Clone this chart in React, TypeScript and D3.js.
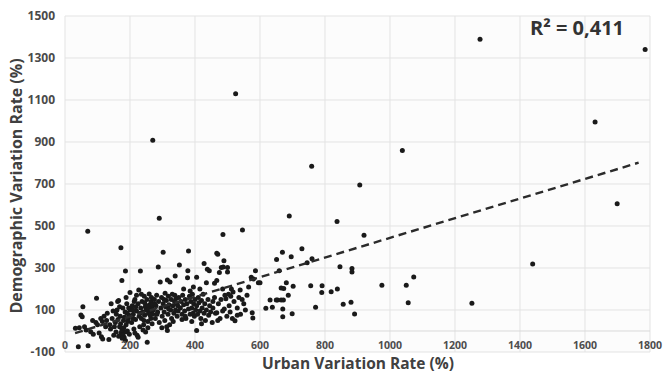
import React, { useEffect } from 'react';
import * as d3 from 'd3';

// [urban variation rate %, demographic variation rate %]
const lowBand: [number, number][] = [
  [32, 13], [44, 16], [41, -75], [71, -70], [79, -3], [87, -16], [49, 76], [53, 68], [55, 116],
  [70, 475], [97, 156], [60, 20], [95, 40], [100, 30], [85, 50], [65, 5], [110, 60], [105, -10],
  [115, 45], [120, 70], [112, -27], [116, -38], [125, 20], [130, 85], [135, -40], [128, 50],
];

const denseBandA: [number, number][] = [
  [140, 10], [145, 60], [150, -20], [155, 40], [160, 100], [162, 140], [165, 145], [168, 20],
  [170, 70], [172, -10], [175, 240], [172, 397], [178, 110], [180, 50], [182, -30], [185, 90],
  [186, 286], [188, 30], [190, 130], [192, 0], [195, 60], [198, -15], [200, 183], [200, 100],
  [197, 75], [185, -5], [175, 5], [165, -25], [158, 80], [152, 20], [148, 95], [142, 130],
  [138, 30], [168, 115], [178, -20], [188, 160], [193, 45], [183, 65], [163, 55], [157, -5],
  [171, 35], [181, 15], [191, 85], [196, 110], [186, -45], [176, -35],
];

const denseBandB: [number, number][] = [
  [205, 40], [207, 120], [210, 80], [212, 10], [215, 150], [217, 55], [220, 95], [222, -20],
  [225, 130], [227, 195], [228, 70], [230, 20], [232, 286], [233, 110], [235, 60], [237, 140],
  [240, 90], [242, 30], [244, 165], [245, 75], [247, 115], [248, -5], [250, 100], [252, 150],
  [253, -54], [255, 45], [257, 85], [259, 176], [260, 125], [262, 95], [264, 60], [265, 140],
  [267, 110], [268, 35], [270, 908], [270, 80], [255, 15], [240, 5], [225, -30], [215, -10],
  [210, 60], [220, 170], [235, 175], [250, 120], [245, 135], [258, 105], [262, 75], [243, 50],
  [232, 85], [218, 115], [208, 100], [213, 140], [266, 160], [269, 125],
];

const midBandA: [number, number][] = [
  [272, 100], [275, 150], [278, 60], [280, 120], [282, 170], [285, 90], [287, 305], [288, 140],
  [290, 537], [290, 40], [293, 233], [295, 110], [297, 160], [299, 70], [302, 375], [302, 130],
  [305, 90], [307, 50], [308, 180], [310, 115], [312, 145], [315, 243], [315, 2], [317, 80],
  [318, 165], [320, 125], [322, 30], [323, 233], [325, 100], [327, 150], [328, 60], [330, 175],
  [332, 120], [335, 85], [337, 140], [339, 262], [340, 100], [342, 155], [345, 70], [347, 120],
  [350, 160], [352, 314], [348, 95], [333, 45], [313, 20], [298, 15], [283, 80], [276, 130],
  [305, 150], [319, 105], [338, 170], [344, 130],
];

const midBandB: [number, number][] = [
  [355, 110], [357, 140], [360, 80], [362, 170], [365, 125], [368, 95], [370, 150], [372, 60],
  [375, 130], [377, 254], [378, 287], [380, 381], [380, 105], [383, 165], [385, 80], [387, 140],
  [390, 110], [392, 175], [394, 85], [396, 130], [398, 70], [400, 150], [402, 100], [405, 256],
  [405, 2], [405, 120], [408, 80], [410, 160], [412, 135], [415, 95], [418, 60], [420, 145],
  [422, 110], [425, 175], [428, 322], [428, 85], [430, 130], [432, 50], [435, 100], [438, 294],
  [440, 150], [442, 75], [444, 287], [445, 120], [448, 90], [365, 200], [395, 210], [385, 190],
  [415, 200], [435, 230], [370, 70], [360, 55], [390, 45], [420, 35],
];

const upperBand: [number, number][] = [
  [453, 40], [455, 110], [460, 227], [460, 160], [463, 85], [467, 240], [467, 370], [467, 87],
  [470, 365], [472, 130], [475, 278], [477, 60], [480, 150], [481, 302], [485, 95], [486, 459],
  [487, 305], [489, 335], [490, 105], [492, 170], [495, 154], [498, 70], [500, 302], [500, 281],
  [503, 175], [505, 120], [508, 90], [510, 165], [512, 200], [515, 60], [517, 186], [520, 140],
  [523, 49], [525, 1130], [530, 110], [535, 160], [539, 195], [540, 80], [546, 481], [550, 130],
  [555, 100], [560, 170], [565, 210], [573, 256], [576, 87], [578, 62], [580, 248], [586, 287],
  [595, 230], [600, 230], [470, 50], [485, 200], [455, 140], [530, 75], [545, 150],
];

const sparseBand: [number, number][] = [
  [618, 108], [631, 148], [638, 113], [650, 148], [654, 148], [651, 341], [659, 287], [665, 148],
  [665, 205], [669, 375], [670, 105], [670, 68], [672, 148], [673, 202], [681, 230], [687, 170],
  [690, 548], [696, 354], [699, 82], [702, 213], [729, 392], [745, 325], [756, 216], [759, 784],
  [760, 344], [771, 113], [790, 183], [791, 216], [819, 187], [837, 522], [838, 200], [846, 306],
  [856, 127], [880, 137], [883, 298], [883, 281], [891, 81], [907, 695], [920, 456], [975, 218],
  [1038, 859], [1050, 218], [1056, 135], [1073, 257], [1252, 132], [1277, 1389], [1439, 319],
  [1631, 995], [1699, 606], [1785, 1341],
];

const points = [...lowBand, ...denseBandA, ...denseBandB, ...midBandA, ...midBandB, ...upperBand, ...sparseBand];

// linear trend
const trendSlope = 0.468;
const trendIntercept = -24.5;
const trendRange: [number, number] = [31, 1765];
const r2Label = 'R² = 0,411';

const xTicks = [0, 200, 400, 600, 800, 1000, 1200, 1400, 1600, 1800];
const yTicks = [-100, 100, 300, 500, 700, 900, 1100, 1300, 1500];

const W = 663;
const H = 374;
const margin = { top: 16, right: 13, bottom: 22, left: 65 };

const App: React.FC = () => {
  useEffect(() => {
    document.body.style.margin = '0';
  }, []);

  const x = d3.scaleLinear().domain([0, 1800]).range([margin.left, W - margin.right]);
  const y = d3.scaleLinear().domain([-100, 1500]).range([H - margin.bottom, margin.top]);

  const trendLine = d3.line<number>()
    .x((d) => x(d))
    .y((d) => y(trendSlope * d + trendIntercept));

  const font = "'Open Sans', 'DejaVu Sans', sans-serif";

  return (
    <svg width={W} height={H} style={{ display: 'block', background: '#fff' }} fontFamily={font}>
      <rect x={x(0)} y={y(1500)} width={x(1800) - x(0)} height={y(-100) - y(1500)} fill="#fcfcfc" />
      {/* grid */}
      {xTicks.map((t) => (
        <line key={'gx' + t} x1={x(t)} x2={x(t)} y1={y(1500)} y2={y(-100)} stroke="#e3e3e3" strokeWidth={1} />
      ))}
      {yTicks.map((t) => (
        <line key={'gy' + t} x1={x(0)} x2={x(1800)} y1={y(t)} y2={y(t)} stroke="#e3e3e3" strokeWidth={1} />
      ))}
      <line x1={x(0)} x2={x(1800)} y1={y(0)} y2={y(0)} stroke="#d9d9d9" strokeWidth={1} />

      {/* points */}
      {points.map((d, i) => (
        <circle key={i} cx={x(d[0])} cy={y(d[1])} r={2.5} fill="#1a1a1a" />
      ))}

      {/* trend */}
      <path d={trendLine(trendRange) || ''} fill="none" stroke="#2b2b2b" strokeWidth={2.4} strokeDasharray="8,5" />

      {/* tick labels */}
      {xTicks.map((t) => (
        <text key={'tx' + t} x={x(t)} y={349} textAnchor="middle" fontSize={10.5} fontWeight="bold" fill="#4d4d4d">
          {t}
        </text>
      ))}
      {yTicks.map((t) => (
        <text key={'ty' + t} x={55} y={y(t)} dy="0.35em" textAnchor="end" fontSize={12} fontWeight="bold" fill="#4a4a4a">
          {t}
        </text>
      ))}

      {/* axis titles */}
      <text x={358} y={369} textAnchor="middle" fontSize={15.5} fontWeight="bold" fill="#404040">
        Urban Variation Rate (%)
      </text>
      <text
        transform={`translate(22,${(y(1500) + y(-100)) / 2 + 2}) rotate(-90)`}
        textAnchor="middle"
        fontSize={16}
        fontWeight="bold"
        fill="#404040"
      >
        Demographic Variation Rate (%)
      </text>

      <text x={530} y={35} fontSize={20} fontWeight="bold" fill="#333">
        {r2Label}
      </text>
    </svg>
  );
};

export default App;
